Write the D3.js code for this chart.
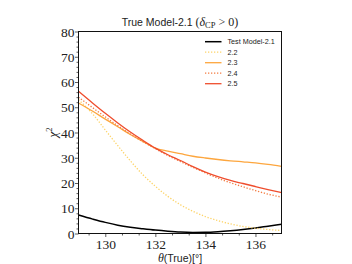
<!DOCTYPE html>
<html><head><meta charset="utf-8">
<script src="https://cdn.jsdelivr.net/npm/d3@7"></script>
<style>body{margin:0;background:#fff}svg{display:block}</style>
</head><body>
<svg id="c" width="352" height="264"></svg>
<script>
const thetas = [128.93,129.5,130,130.5,131,131.5,132,132.5,133,133.5,134,134.5,135,135.5,136,136.5,137.04];
const test21 = [7.3,5.7,4.4,3.3,2.5,1.9,1.35,0.9,0.55,0.4,0.45,0.7,1.1,1.6,2.2,2.9,3.65];
const m22 = [53.0,47.3,41.0,34.8,28.8,23.3,18.7,14.7,11.4,8.8,6.7,5.1,3.8,2.8,2.1,1.6,1.2];
const m23 = [51.7,48.4,45.3,42.3,39.2,36.5,33.8,32.6,31.6,30.6,29.9,29.3,28.8,28.4,28.0,27.4,26.6];
const m24 = [54.0,49.8,46.2,42.7,39.4,36.4,33.6,30.9,28.5,26.2,24.0,21.9,20.1,18.5,17.0,15.6,14.4];
const m25 = [56.3,51.6,47.6,43.8,40.2,36.9,33.8,31.2,28.9,26.5,24.3,22.5,21.0,19.8,18.6,17.4,16.2];
const seriesNames = ["Test Model-2.1","2.2","2.3","2.4","2.5"];
const xTicks = [130,132,134,136];
const yTicks = [0,10,20,30,40,50,60,70,80];

const series = [
  {name: seriesNames[0], vals: test21, color:"#000000", dash:null, w:1.5},
  {name: seriesNames[1], vals: m22, color:"#fdd46a", dash:"1.3,1.7", w:1.3},
  {name: seriesNames[2], vals: m23, color:"#fda63e", dash:null, w:1.3},
  {name: seriesNames[3], vals: m24, color:"#f47c42", dash:"1.3,1.7", w:1.3},
  {name: seriesNames[4], vals: m25, color:"#ef4d2d", dash:null, w:1.3}
];

const L=78.5, R=281.5, T=31.5, B=233.5;
const x = d3.scaleLinear().domain([128.93,137.04]).range([L,R]);
const y = d3.scaleLinear().domain([0,80]).range([B,T]);
const svg = d3.select("#c");
const serif = "'Liberation Serif', 'DejaVu Serif', serif";
const sans = "'Liberation Sans', Arial, sans-serif";

svg.append("defs").append("clipPath").attr("id","clip")
  .append("rect").attr("x",L).attr("y",T).attr("width",R-L).attr("height",B-T);

const line = d3.line().x((d,i)=>x(thetas[i])).y(d=>y(d)).curve(d3.curveMonotoneX);
const g = svg.append("g").attr("clip-path","url(#clip)");
series.forEach(s=>{
  g.append("path").attr("d",line(s.vals)).attr("fill","none")
    .attr("stroke",s.color).attr("stroke-width",s.w)
    .attr("stroke-dasharray",s.dash);
});

// axes
const xMinor = d3.range(0,13).map(k=>129.3333+k*2/3).filter(v=>v<137.04 && !xTicks.some(t=>Math.abs(t-v)<0.01));
const yMinor = d3.range(0,81,2).filter(v=>v%10!==0);
const xa = svg.append("g").attr("transform",`translate(0,${B})`);
xa.call(d3.axisBottom(x).tickValues(xTicks).tickSize(3.5).tickFormat(d3.format("d")));
xa.append("g").call(d3.axisBottom(x).tickValues(xMinor).tickSize(2).tickFormat(""));
const ya = svg.append("g").attr("transform",`translate(${L},0)`);
ya.call(d3.axisLeft(y).tickValues(yTicks).tickSize(3.5).tickFormat(d3.format("d")));
ya.append("g").call(d3.axisLeft(y).tickValues(yMinor).tickSize(2).tickFormat(""));
svg.selectAll(".domain").attr("stroke","none");
svg.selectAll(".tick line").attr("stroke","#333").attr("stroke-width",0.8);
xa.selectAll(".tick text").attr("font-family",serif).attr("font-size",13.5).attr("fill","#222")
  .attr("y",5.5).attr("dy","0.71em");
ya.selectAll(".tick text").attr("font-family",serif).attr("font-size",13.5).attr("fill","#222")
  .attr("x",-4).attr("dy","0.35em");

// frame
svg.append("rect").attr("x",L).attr("y",T).attr("width",R-L).attr("height",B-T)
  .attr("fill","none").attr("stroke","#111").attr("stroke-width",1);

// title
const title = svg.append("text").attr("x",(L+R)/2).attr("y",26).attr("text-anchor","middle")
  .attr("font-size",10.5).attr("fill","#222");
title.append("tspan").attr("font-family",sans).text("True Model-2.1 ");
title.append("tspan").attr("font-family",serif).attr("font-size",12).text("(");
title.append("tspan").attr("font-family",serif).attr("font-style","italic").attr("font-size",12).text("δ");
title.append("tspan").attr("font-family",serif).attr("font-size",8.5).attr("dy",2).text("CP");
title.append("tspan").attr("font-family",serif).attr("font-size",12).attr("dy",-2).text(" > 0)");

// x label
const xl = svg.append("text").attr("x",(L+R)/2).attr("y",262).attr("text-anchor","middle")
  .attr("font-size",10.5).attr("fill","#222");
xl.append("tspan").attr("font-family",serif).attr("font-style","italic").attr("font-size",12).text("θ");
xl.append("tspan").attr("font-family",sans).text("(True)[°]");

// y label
const yl = svg.append("text").attr("transform",`translate(57,${(T+B)/2}) rotate(-90)`)
  .attr("text-anchor","middle").attr("font-family",serif).attr("fill","#222");
yl.append("tspan").attr("font-style","italic").attr("font-size",13).text("χ");
yl.append("tspan").attr("font-size",8.5).attr("dy",-5).text("2");

// legend
const lg = svg.append("g");
series.forEach((s,i)=>{
  const yy = 41.7 + i*10.5;
  lg.append("line").attr("x1",205).attr("x2",221.5).attr("y1",yy).attr("y2",yy)
    .attr("stroke",s.color).attr("stroke-width",s.w).attr("stroke-dasharray",s.dash);
  lg.append("text").attr("x",227.5).attr("y",yy+2.6).attr("font-family",sans)
    .attr("font-size",7.2).attr("fill","#222").text(s.name);
});
</script>
</body></html>
